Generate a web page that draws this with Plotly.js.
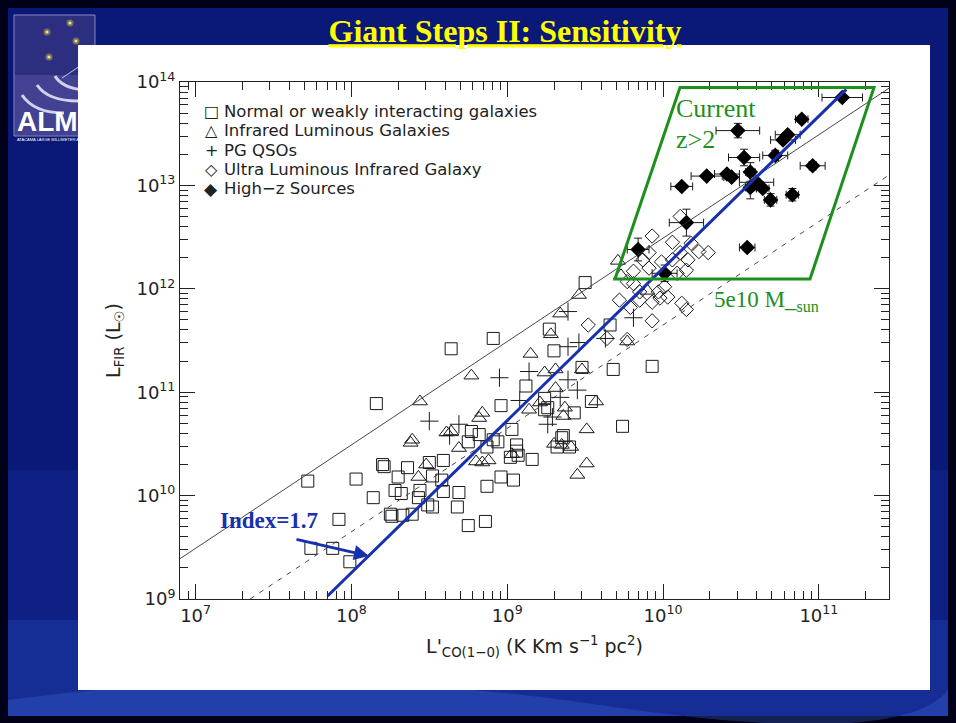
<!DOCTYPE html>
<html><head><meta charset="utf-8">
<script src="https://cdn.plot.ly/plotly-3.0.1.min.js"></script>
<style>html,body{margin:0;padding:0;background:#000018;}#chart{width:956px;height:723px;}</style>
</head><body><div id="chart"></div>
<script>
// ---- Data (log10 values) ----
const normLogCO  = [7.72,8.03,8.16,8.20,8.21,8.14,7.92,7.74,7.88,7.99,8.25,8.26,8.30,8.28,8.32,8.33,8.36,8.39,8.43,8.44,8.50,8.59,8.52,8.58,8.49,8.52,8.59,8.69,8.68,8.75,8.86,8.87,8.96,9.04,8.96,9.12,9.16,9.02,9.06,9.06,9.03,8.91,8.82,8.77,8.75,8.87,8.94,9.07,9.24,9.24,9.26,9.43,9.54,9.35,9.40,9.32,9.36,8.64,8.91,9.50,9.27,9.30,9.66,9.68,9.93,9.74,9.48];
const normLogFIR = [10.14,10.16,10.89,10.30,10.28,9.98,9.77,9.49,9.49,9.36,9.82,9.80,10.18,10.05,10.02,9.81,10.27,9.82,9.98,10.05,10.32,10.34,10.19,10.15,9.91,9.89,10.04,10.03,9.89,9.71,9.75,10.09,10.18,10.15,10.87,11.06,10.35,10.37,10.43,10.49,10.64,10.54,10.59,10.62,10.52,10.47,10.52,10.39,10.94,10.83,10.85,10.80,10.91,10.56,10.47,10.47,10.58,11.42,11.52,12.06,11.61,11.40,11.65,11.22,11.25,10.67,11.24];

const lirgLogCO  = [9.71,9.73,9.46,9.34,9.28,9.15,8.77,8.44,9.24,9.31,9.48,9.31,9.14,9.21,9.37,9.36,9.57,9.51,9.51,9.45,8.39,8.38,8.64,8.61,8.69,8.84,8.80,8.84,8.88,9.03,9.30,9.35,9.41,8.48,8.43,9.77,9.90,8.82];
const lirgLogFIR = [12.27,12.13,11.94,11.76,11.56,11.37,11.16,10.91,11.19,11.22,11.22,11.04,10.83,10.90,10.85,10.77,10.91,10.64,10.31,10.20,10.54,10.51,10.62,10.61,10.46,10.80,10.33,10.32,10.34,10.40,10.50,10.49,10.47,10.30,10.18,11.49,11.98,10.75];

const qsoLogCO  = [9.39,9.81,9.39,9.46,9.14,8.95,9.39,9.45,9.34,9.08,8.50,8.69,8.63,9.29,9.63,9.26];
const qsoLogFIR = [11.78,11.72,11.44,11.48,11.20,11.14,11.12,11.02,10.95,10.92,10.72,10.69,10.58,10.76,11.52,10.69];

const ulirgLogCO  = [10.11,9.93,10.06,10.18,10.23,10.29,10.11,9.91,9.87,9.81,9.91,9.99,10.06,10.16,10.15,10.09,9.77,9.81,9.85,9.97,10.01,9.98,10.03,9.93,9.85,9.72,9.79,10.12,10.15,9.93,9.52,9.64,9.77];
const ulirgLogFIR = [12.70,12.51,12.45,12.44,12.36,12.35,12.35,12.35,12.28,12.17,12.20,12.26,12.28,12.28,12.18,12.15,12.07,12.05,11.97,11.97,12.02,11.91,11.92,11.87,11.89,11.89,11.82,11.86,11.80,11.69,11.65,11.52,11.51];

const hizLogCO   = [11.15,10.89,10.48,10.80,10.77,10.72,10.52,10.96,10.28,10.41,10.44,10.56,10.60,10.56,10.64,10.69,10.83,10.12,10.15,10.54,9.84,10.01];
const hizLogFIR  = [13.85,13.64,13.53,13.49,13.44,13.29,13.27,13.19,13.09,13.11,13.08,13.13,13.03,12.98,12.97,12.86,12.91,12.99,12.64,12.40,12.38,12.15];
const hizErrCO   = [0.13,0.04,0.14,0.08,0.08,0.08,0.10,0.08,0.10,0.08,0.05,0.03,0.11,0.03,0.04,0.04,0.04,0.07,0.11,0.05,0.07,0.08];
const hizErrFIR  = [0.00,0.03,0.07,0.02,0.02,0.05,0.08,0.04,0.03,0.03,0.03,0.09,0.03,0.11,0.03,0.06,0.06,0.03,0.13,0.03,0.11,0.08];

// relations drawn: log L_FIR = slope * log L'CO + intercept
const upperRel  = {slope:1.0,   intercept:2.49,   from:6.9,   to:11.45};
const lowerRel  = {slope:1.0,   intercept:1.65,   from:7.35,  to:11.45};
const indexFit  = {slope:1.472, intercept:-2.522, from:7.847, to:11.176};

const xTickVals = [1e7,1e8,1e9,1e10,1e11];
const xTickText = ['10<sup>7</sup>','10<sup>8</sup>','10<sup>9</sup>','10<sup>10</sup>','10<sup>11</sup>'];
const yTickVals = [1e9,1e10,1e11,1e12,1e13,1e14];
const yTickText = ['10<sup>9</sup>','10<sup>10</sup>','10<sup>11</sup>','10<sup>12</sup>','10<sup>13</sup>','10<sup>14</sup>'];

const legendLabels = ['Normal or weakly interacting galaxies','Infrared Luminous Galaxies','PG QSOs','Ultra Luminous Infrared Galaxy','High\u2212z Sources'];
const legendGlyphs = ['\u25A1','\u25B3','+','\u25C7','\u25C6'];

// ---- helpers ----
const lin = a => a.map(v => Math.pow(10, v));
function relLine(r){ const xs=[r.from,r.to]; return {x:lin(xs), y:lin(xs.map(v=>r.slope*v+r.intercept))}; }
function minorVals(lo,hi){ const out=[]; for(let d=lo; d<=hi; d++){ for(let k=2;k<=9;k++) out.push(k*Math.pow(10,d)); } return out; }

const X0=180, X1=889, Y0=82, Y1=599;
const PX = x => (x - X0)/(X1 - X0);
const PY = y => (Y1 - y)/(Y1 - Y0);
const P = (x,y) => PX(x).toFixed(5)+','+PY(y).toFixed(5);

const ink = '#1a1a1a';
const green = '#1c8f1c';
const blue = '#1730b0';

const traces = [];
traces.push({x:lin(normLogCO), y:lin(normLogFIR), mode:'markers', type:'scatter', showlegend:false,
  marker:{symbol:'square-open', size:12, color:ink, line:{width:1, color:ink}}});
traces.push({x:lin(lirgLogCO), y:lin(lirgLogFIR), mode:'markers', type:'scatter', showlegend:false,
  marker:{symbol:'triangle-up-open', size:13, color:ink, line:{width:1, color:ink}}});
traces.push({x:lin(qsoLogCO), y:lin(qsoLogFIR), mode:'markers', type:'scatter', showlegend:false,
  marker:{symbol:'cross-thin-open', size:13, color:ink, line:{width:1, color:ink}}});
traces.push({x:lin(ulirgLogCO), y:lin(ulirgLogFIR), mode:'markers', type:'scatter', showlegend:false,
  marker:{symbol:'diamond-open', size:11, color:ink, line:{width:1, color:ink}}});
const hx = lin(hizLogCO), hy = lin(hizLogFIR);
traces.push({x:hx, y:hy, mode:'markers', type:'scatter', showlegend:false,
  marker:{symbol:'diamond', size:12, color:'#000'},
  error_x:{type:'data', symmetric:false, array:hx.map((v,i)=>v*(Math.pow(10,hizErrCO[i])-1)), arrayminus:hx.map((v,i)=>v*(1-Math.pow(10,-hizErrCO[i]))), color:ink, thickness:1, width:4},
  error_y:{type:'data', symmetric:false, array:hy.map((v,i)=>v*(Math.pow(10,hizErrFIR[i])-1)), arrayminus:hy.map((v,i)=>v*(1-Math.pow(10,-hizErrFIR[i]))), color:ink, thickness:1, width:4}});
const u = relLine(upperRel), l = relLine(lowerRel), f = relLine(indexFit);
traces.push({x:u.x, y:u.y, mode:'lines', type:'scatter', showlegend:false, line:{color:'#333', width:0.9}});
traces.push({x:l.x, y:l.y, mode:'lines', type:'scatter', showlegend:false, line:{color:'#333', width:0.9, dash:'5px,6px'}});
traces.push({x:f.x, y:f.y, mode:'lines', type:'scatter', showlegend:false, line:{color:blue, width:3}});

// ---- decorations (slide) ----
const shapes = [
  {type:'rect', xref:'paper', yref:'paper', x0:PX(8), x1:PX(948), y0:PY(8), y1:PY(716), fillcolor:'#0a1878', line:{width:0}, layer:'below'},
  {type:'rect', xref:'paper', yref:'paper', x0:PX(8), x1:PX(948), y0:PY(470), y1:PY(716), fillcolor:'rgba(40,80,200,0.15)', line:{width:0}, layer:'below'},
  {type:'rect', xref:'paper', yref:'paper', x0:PX(8), x1:PX(948), y0:PY(620), y1:PY(716), fillcolor:'rgba(50,90,210,0.22)', line:{width:0}, layer:'below'},
  {type:'path', xref:'paper', yref:'paper', path:'M'+P(8,700)+' Q'+P(300,660)+' '+P(600,705)+' T'+P(948,690)+' L'+P(948,716)+' L'+P(8,716)+' Z', fillcolor:'rgba(70,110,220,0.3)', line:{width:0}, layer:'below'},
  // ALMA logo
  {type:'rect', xref:'paper', yref:'paper', x0:PX(14), x1:PX(95), y0:PY(15), y1:PY(136), fillcolor:'#2c2f80', line:{color:'#8a8ac0', width:1}, layer:'below'},
  {type:'rect', xref:'paper', yref:'paper', x0:PX(14.5), x1:PX(94.5), y0:PY(75), y1:PY(135.5), fillcolor:'rgba(130,120,200,0.25)', line:{width:0}, layer:'below'},
  {type:'path', xref:'paper', yref:'paper', path:'M'+P(22,95)+' Q'+P(34,113)+' '+P(64,113), line:{color:'rgba(235,235,255,0.85)', width:3}, layer:'below'},
  {type:'path', xref:'paper', yref:'paper', path:'M'+P(37,85)+' Q'+P(48,101)+' '+P(78,101), line:{color:'rgba(235,235,255,0.85)', width:3}, layer:'below'},
  {type:'path', xref:'paper', yref:'paper', path:'M'+P(55,76)+' Q'+P(62,88)+' '+P(84,90), line:{color:'rgba(235,235,255,0.85)', width:3}, layer:'below'},
  {type:'path', xref:'paper', yref:'paper', path:'M'+P(62,78)+' L'+P(80,66), line:{color:'rgba(235,235,255,0.8)', width:1}, layer:'below'},
];
[[47,32],[70,23],[76,41],[49,57]].forEach(s=>{
  shapes.push({type:'circle', xref:'paper', yref:'paper', x0:PX(s[0]-3.5), x1:PX(s[0]+3.5), y0:PY(s[1]-3.5), y1:PY(s[1]+3.5), fillcolor:'rgba(255,230,80,0.35)', line:{width:0}, layer:'below'});
  shapes.push({type:'circle', xref:'paper', yref:'paper', x0:PX(s[0]-1.6), x1:PX(s[0]+1.6), y0:PY(s[1]-1.6), y1:PY(s[1]+1.6), fillcolor:'#ffe650', line:{width:0}, layer:'below'});
});
shapes.push({type:'rect', xref:'paper', yref:'paper', x0:PX(78), x1:PX(930), y0:PY(45), y1:PY(690), fillcolor:'#ffffff', line:{width:0}, layer:'below'});
// sensitivity box
shapes.push({type:'path', xref:'paper', yref:'paper', path:'M'+P(680,87.5)+' L'+P(874,87.5)+' L'+P(810,279)+' L'+P(615,279)+' Z', line:{color:green, width:3}, layer:'above'});

const annotations = [
  {xref:'paper', yref:'paper', x:PX(15), y:PY(122), xanchor:'left', yanchor:'middle', text:'<b>ALMA</b>', showarrow:false, font:{family:'Liberation Sans', size:28, color:'#ffffff'}},
  {xref:'paper', yref:'paper', x:PX(15), y:PY(140), xanchor:'left', yanchor:'middle', text:'ATACAMA LARGE MILLIMETER ARRAY', showarrow:false, font:{family:'Liberation Sans', size:4, color:'#ffffff'}},
  {xref:'paper', yref:'paper', x:PX(674), y:PY(108), xanchor:'left', yanchor:'middle', text:'Current', showarrow:false, font:{family:'Liberation Serif', size:26, color:green}},
  {xref:'paper', yref:'paper', x:PX(674), y:PY(140), xanchor:'left', yanchor:'middle', text:'z>2', showarrow:false, font:{family:'Liberation Serif', size:26, color:green}},
  {xref:'paper', yref:'paper', x:PX(712), y:PY(301), xanchor:'left', yanchor:'middle', text:'5e10 M_<sub>sun</sub>', showarrow:false, font:{family:'Liberation Serif', size:23, color:green}},
  {xref:'paper', yref:'paper', x:PX(218), y:PY(520), xanchor:'left', yanchor:'middle', text:'<b>Index=1.7</b>', showarrow:false, font:{family:'Liberation Serif', size:23, color:blue}},
  {xref:'paper', yref:'paper', x:PX(369), y:PY(556), text:'', showarrow:true, ax:-74, ay:-17, arrowhead:2, arrowsize:1, arrowwidth:3, arrowcolor:blue},
];
const legY = [111,130.5,150,169.5,189];
legendLabels.forEach((t,i)=>{
  annotations.push({xref:'paper', yref:'paper', x:PX(222), y:PY(legY[i]), xanchor:'left', yanchor:'middle', text:t, showarrow:false, font:{family:'DejaVu Sans', size:16.5, color:'#222'}});
  annotations.push({xref:'paper', yref:'paper', x:PX(211), y:PY(legY[i]), xanchor:'center', yanchor:'middle', text:legendGlyphs[i], showarrow:false, font:{family:'DejaVu Sans', size:i===4?17:16, color:'#222'}});
});

const axisCommon = {type:'log', showgrid:false, zeroline:false, showline:true, linecolor:'#222', linewidth:1, mirror:'ticks',
  ticks:'inside', ticklen:15, tickwidth:1, tickcolor:'#222', tickmode:'array', tickfont:{family:'DejaVu Sans', size:18, color:'#222'}};

const layout = {
  width:956, height:723,
  margin:{l:X0, r:956-X1, t:Y0, b:723-Y1, pad:0},
  paper_bgcolor:'#000018', plot_bgcolor:'#ffffff',
  title:{text:'<b><u>Giant Steps II: Sensitivity</u></b>', font:{family:'Liberation Serif', size:32, color:'#ffff00'}, xref:'container', yref:'container', x:505/956, y:1-31/723, xanchor:'center', yanchor:'middle'},
  xaxis:Object.assign({}, axisCommon, {range:[6.9, 11.45], tickvals:xTickVals, ticktext:xTickText,
    minor:{tickmode:'array', tickvals:minorVals(6,11), ticks:'inside', ticklen:8, tickwidth:1, tickcolor:'#222'},
    title:{text:"L'<sub>CO(1\u22120)</sub> (K Km s<sup>\u22121</sup> pc<sup>2</sup>)", font:{family:'DejaVu Sans', size:19, color:'#222'}, standoff:15}}),
  yaxis:Object.assign({}, axisCommon, {range:[9, 14], tickvals:yTickVals, ticktext:yTickText,
    minor:{tickmode:'array', tickvals:minorVals(9,13), ticks:'inside', ticklen:8, tickwidth:1, tickcolor:'#222'},
    title:{text:'L<sub>FIR</sub> (L<sub>\u2609</sub>)', font:{family:'DejaVu Sans', size:19, color:'#222'}, standoff:10}}),
  shapes:shapes, annotations:annotations, showlegend:false
};

Plotly.newPlot('chart', traces, layout, {displayModeBar:false, staticPlot:true});
</script></body></html>
